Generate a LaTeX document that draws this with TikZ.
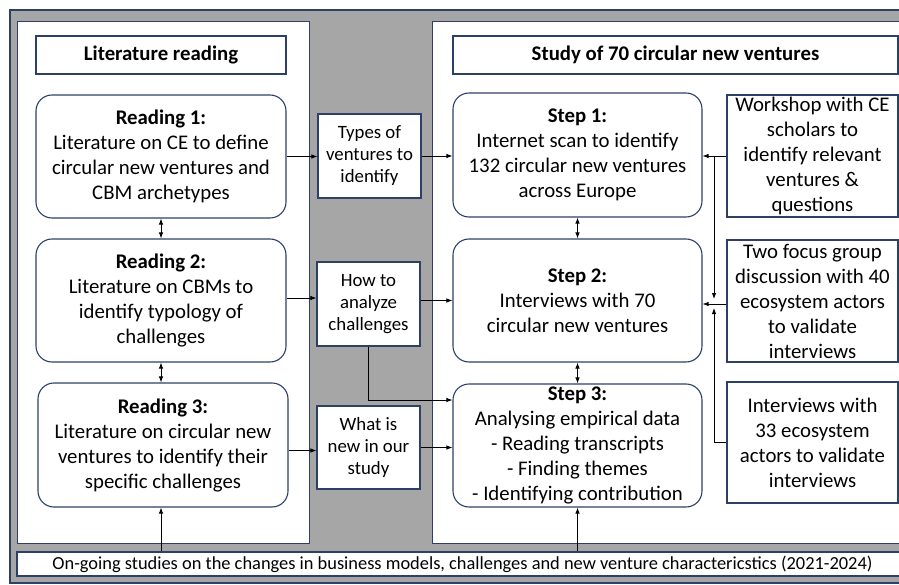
\documentclass[tikz,border=0pt]{standalone}
\usepackage{fontspec}
\setmainfont{Carlito}
\usetikzlibrary{arrows.meta,calc}
\definecolor{navy}{RGB}{47,64,104}
\definecolor{bg}{RGB}{166,166,166}
\begin{document}
\begin{tikzpicture}[x=1pt,y=-1pt,
 every node/.style={font=\fontsize{20.8}{25}\selectfont, inner sep=0pt, align=center},
 panel/.style={draw=navy, fill=white, line width=1pt},
 hdr/.style={draw=navy, fill=white, line width=1.1pt, font=\fontsize{20.8}{25}\selectfont\bfseries},
 rbox/.style={draw=navy, fill=white, line width=1.1pt, rounded corners=16pt},
 sbox/.style={draw=navy, fill=white, line width=1.1pt, font=\fontsize{18.8}{22}\selectfont},
 arr/.style={-{Latex[length=6pt,width=4.5pt]}, line width=0.9pt},
 darr/.style={{Latex[length=6pt,width=4.5pt]}-{Latex[length=6pt,width=4.5pt]}, line width=0.9pt}]
\useasboundingbox (0,0) rectangle (899,585);
\clip (0,0) rectangle (899,585);
\fill[white] (0,0) rectangle (899,585);
\draw[fill=bg, draw=navy, line width=1.2pt] (10,10) rectangle (920,583);
% panels
\node[panel, minimum width=292pt, minimum height=521pt] (LP) at (163,282.5) {};
\node[panel, minimum width=488pt, minimum height=521pt] (RP) at (676,282.5) {};
% headers
\node[hdr, minimum width=250pt, minimum height=38pt] (LH) at (161,55) {Literature reading};
\node[hdr, minimum width=445pt, minimum height=38pt] (SH) at (675.5,55) {Study of 70 circular new ventures};
% readings
\node[rbox, minimum width=250pt, minimum height=123pt] (R1) at (161,156.5) {{\bfseries Reading 1:}\\Literature on CE to define\\circular new ventures and\\CBM archetypes};
\node[rbox, minimum width=250pt, minimum height=123pt] (R2) at (161,300.5) {{\bfseries Reading 2:}\\Literature on CBMs to\\identify typology of\\challenges};
\node[rbox, minimum width=250pt, minimum height=124pt] (R3) at (163,445) {{\bfseries Reading 3:}\\Literature on circular new\\ventures to identify their\\specific challenges};
% middle boxes
\node[sbox, minimum width=103pt, minimum height=84pt] (Types) at (369.5,156) {Types of\\ventures to\\identify};
\node[sbox, minimum width=103pt, minimum height=84pt] (HowTo) at (368.5,304) {How to\\analyze\\challenges};
\node[sbox, minimum width=103pt, minimum height=83pt] (WhatNew) at (368.5,447.5) {What is\\new in our\\study};
% steps
\node[rbox, minimum width=249pt, minimum height=124pt] (S1) at (577.5,155) {{\bfseries Step 1:}\\Internet scan to identify\\132 circular new ventures\\across Europe};
\node[rbox, minimum width=249pt, minimum height=123pt] (S2) at (577.5,300.5) {{\bfseries Step 2:}\\Interviews with 70\\circular new ventures};
\node[rbox, minimum width=249pt, minimum height=123pt] (S3) at (577.5,445.5) {{\bfseries Step 3:}\\Analysing empirical data\\- Reading transcripts\\- Finding themes\\- Identifying contribution};
% right boxes
\node[sbox, font=\fontsize{20.8}{25}\selectfont, minimum width=171pt, minimum height=122pt] (W) at (812.5,156) {Workshop with CE\\scholars to\\identify relevant\\ventures \&\\questions};
\node[sbox, font=\fontsize{20.8}{25}\selectfont, minimum width=171pt, minimum height=122pt] (F) at (812.5,301) {Two focus group\\discussion with 40\\ecosystem actors\\to validate\\interviews};
\node[sbox, font=\fontsize{20.8}{25}\selectfont, minimum width=171pt, minimum height=121pt] (I) at (812.5,442.5) {Interviews with\\33 ecosystem\\actors to validate\\interviews};
% bottom
\node[sbox, font=\fontsize{18.4}{22}\selectfont, minimum width=891pt, minimum height=24pt] (B) at (462.5,564) {On-going studies on the changes in business models, challenges and new venture charactericstics (2021-2024)};
% connectors left
\draw[arr] (R1.east) -- (R1.east -| Types.west);
\draw[arr] (Types.east) -- (Types.east -| S1.west);
\draw[arr] ($(R2.east)+(0,-2.5)$) -- ($(R2.east -| HowTo.west)+(0,-2.5)$);
\draw[arr] (HowTo.east |- S2.west) -- (S2.west);
\draw[arr] (HowTo.south) |- ($(S3.west)+(0,-45.5)$);
\draw[arr] ($(R3.east)+(0,5.5)$) -- ($(R3.east -| WhatNew.west)+(0,5.5)$);
\draw[arr] (WhatNew.east) -- (WhatNew.east -| S3.west);
% double arrows
\draw[darr] (R1.south) -- (R2.north);
\draw[darr] (R2.south) -- (R2.south |- R3.north);
\draw[darr] (S1.south) -- (S2.north);
\draw[darr] (S2.south) -- (S3.north);
% bottom arrows
\draw[arr] (R2.south |- B.north) -- (R2.south |- R3.south);
\draw[arr] (S3.south |- B.north) -- (S3.south);
% right connectors
\coordinate (v1) at (714,156);
\coordinate (v2) at (714,299);
\coordinate (v3) at (714,308);
\draw[arr] (W.west) -- (W.west -| S1.east);
\draw[arr] (v1) -- (v2);
\draw[arr] ($(F.west)+(0,3)$) -- ($(F.west -| S2.east)+(0,3)$);
\draw[arr] (I.west) -| (v3);
\end{tikzpicture}
\end{document}
